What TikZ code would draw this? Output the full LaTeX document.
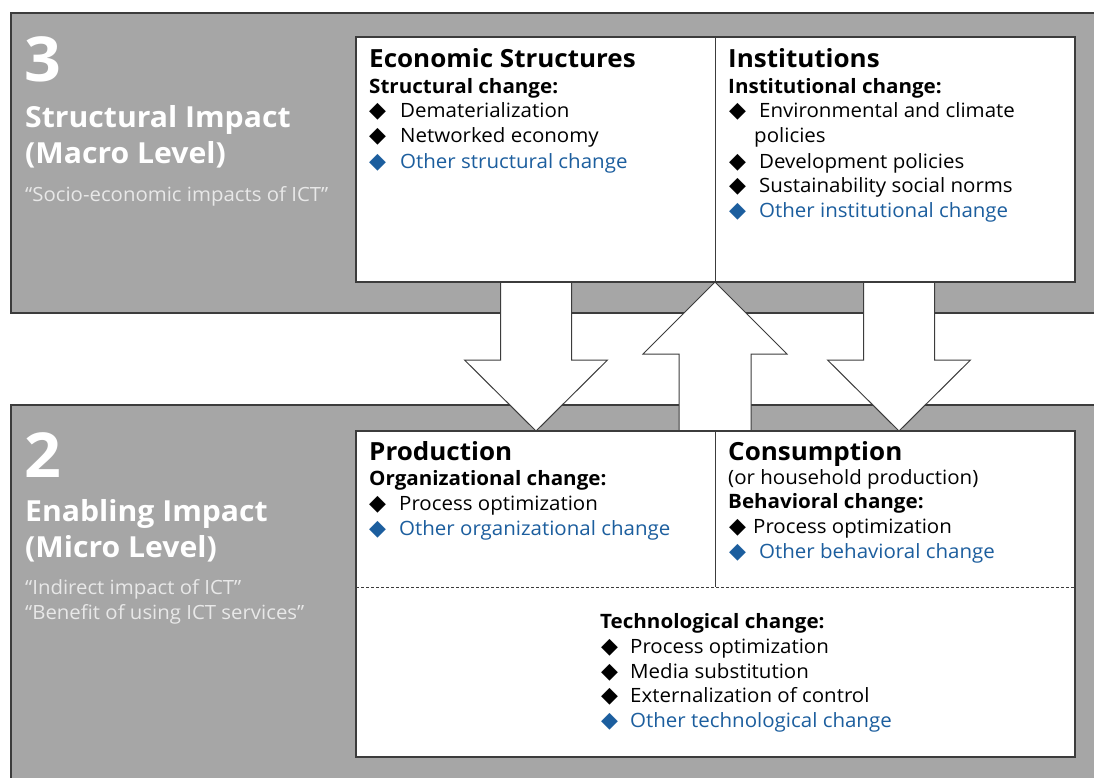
\documentclass[tikz,border=0pt]{standalone}
\usepackage{fontspec}
\setmainfont{Open Sans}[FakeStretch=1.04]
\newfontfamily\symf{DejaVu Sans}
\definecolor{layergray}{RGB}{166,166,166}
\definecolor{edgegray}{RGB}{60,60,60}
\definecolor{otherblue}{RGB}{28,94,158}
\definecolor{quotegray}{RGB}{232,232,232}
% diamond bullet, box width = gap up to the text
\newcommand{\dmd}[1][31pt]{\makebox[#1][l]{\symf\fontsize{22}{22}\selectfont ◆}}

\begin{document}
\begin{tikzpicture}[x=1pt,y=-1pt,
    txt/.style={anchor=base west,inner sep=0pt,font=\fontsize{19.7}{23}\selectfont},
    other/.style={txt,text=otherblue},
    ttl/.style={anchor=base west,inner sep=0pt,font=\fontsize{25}{28}\selectfont\bfseries},
    sub/.style={anchor=base west,inner sep=0pt,font=\fontsize{19.8}{23}\selectfont\bfseries},
    lvlnum/.style={anchor=base west,inner sep=0pt,text=white,font=\fontsize{62}{62}\selectfont\bfseries},
    lvl/.style={anchor=base west,inner sep=0pt,text=white,font=\fontsize{29}{30}\selectfont\bfseries},
    qt/.style={anchor=base west,inner sep=0pt,text=quotegray,font=\fontsize{19.6}{23}\selectfont},
    layerbox/.style={fill=layergray,draw=edgegray,line width=1.5pt},
    panel/.style={fill=white,draw=edgegray,line width=1.2pt},
    bigarrow/.style={fill=white,draw=edgegray,line width=1pt,line join=miter}]

    \useasboundingbox (0,0) rectangle (1094,778);
    \clip (0,0) rectangle (1094,778);

    % the two layers
    \draw[layerbox] (11,13) rectangle (1110,313);
    \draw[layerbox] (11,405) rectangle (1110,800);

    % block arrows between the layers
    \foreach \cx in {536,899}
        \draw[bigarrow] (\cx-35.5,282) -- (\cx+35.5,282) -- (\cx+35.5,360) -- (\cx+71.5,360)
            -- (\cx,431) -- (\cx-71.5,360) -- (\cx-35.5,360) -- cycle;
    \draw[bigarrow] (715,282) -- (787,354) -- (751,354) -- (751,431) -- (679,431)
        -- (679,354) -- (643,354) -- cycle;

    % panels
    \coordinate (UL) at (356,37);
    \coordinate (UR) at (1075,282);
    \coordinate (LL) at (356,431);
    \coordinate (LR) at (1075,757);
    \draw[panel] (UL) rectangle (UR);
    \draw[edgegray,line width=1pt] (715,37) -- (715,282);
    \draw[panel] (LL) rectangle (LR);
    \draw[edgegray,line width=1pt] (715,431) -- (715,587);
    \draw[edgegray,line width=0.8pt,dash pattern=on 3pt off 2pt] (356,587) -- (1075,587);

    % layer 3
    \node[lvlnum] (n3) at (24,82) {3};
    \node[lvl] (s1) at (25,128) {Structural Impact};
    \node[lvl] (s2) at (25,164) {(Macro Level)};
    \node[qt] (s3) at (25,201) {“Socio-economic impacts of ICT”};

    \node[ttl] (es) at (369,68) {Economic Structures};
    \node[sub] (esc) at (369,94) {Structural change:};
    \node[txt] (es1) at (369,118) {\dmd Dematerialization};
    \node[txt] (es2) at (369,143) {\dmd Networked economy};
    \node[other] (es3) at (369,168) {\dmd Other structural change};

    \node[ttl] (in) at (728,68) {Institutions};
    \node[sub] (inc) at (728,94) {Institutional change:};
    \node[txt] (in1) at (729,118) {\dmd[30pt]Environmental and climate};
    \node[txt] (in1b) at (754,143) {policies};
    \node[txt] (in2) at (729,168) {\dmd[30pt]Development policies};
    \node[txt] (in3) at (729,193) {\dmd[30pt]Sustainability social norms};
    \node[other] (in4) at (729,217) {\dmd[30pt]Other institutional change};

    % layer 2
    \node[lvlnum] (n2) at (24,477) {2};
    \node[lvl] (e1) at (25,521) {Enabling Impact};
    \node[lvl] (e2) at (25,557) {(Micro Level)};
    \node[qt] (e3) at (25,594) {“Indirect impact of ICT”};
    \node[qt] (e4) at (25,619) {“Benefit of using ICT services”};

    \node[ttl] (pr) at (369,460) {Production};
    \node[sub] (prc) at (369,485) {Organizational change:};
    \node[txt] (pr1) at (369,510) {\dmd[30pt]Process optimization};
    \node[other] (pr2) at (369,535) {\dmd[30pt]Other organizational change};

    \node[ttl] (co) at (728,460) {Consumption};
    \node[txt] (coh) at (728,484) {(or household production)};
    \node[sub] (coc) at (728,508) {Behavioral change:};
    \node[txt] (co1) at (729,533) {\dmd[24pt]Process optimization};
    \node[other] (co2) at (729,558) {\dmd[30pt]Other behavioral change};

    \node[sub] (te) at (600,628) {Technological change:};
    \node[txt] (te1) at (601,653) {\dmd[29pt]Process optimization};
    \node[txt] (te2) at (601,678) {\dmd[29pt]Media substitution};
    \node[txt] (te3) at (601,702) {\dmd[29pt]Externalization of control};
    \node[other] (te4) at (601,727) {\dmd[29pt]Other technological change};
\end{tikzpicture}
\end{document}
